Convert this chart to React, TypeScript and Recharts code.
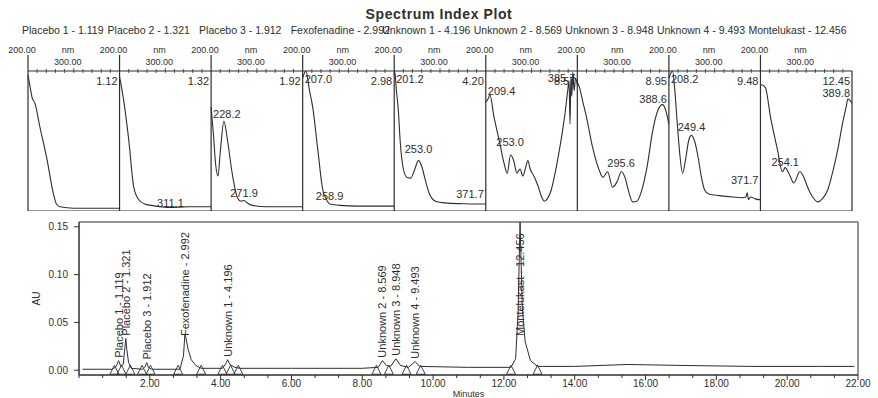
import { ComposedChart, Line, Scatter, XAxis, YAxis, ReferenceLine, ReferenceArea } from "recharts"

const FONT = '"Liberation Sans", Arial, sans-serif'
const INK = "#2e2e2e"

// peaks found in the run
const peakNames = ["Placebo 1", "Placebo 2", "Placebo 3", "Fexofenadine", "Unknown 1", "Unknown 2", "Unknown 3", "Unknown 4", "Montelukast"]
const peakTimes = [1.119, 1.321, 1.912, 2.992, 4.196, 8.569, 8.948, 9.493, 12.456]
const peakHeights = [0.01, 0.033, 0.008, 0.038, 0.011, 0.01, 0.012, 0.009, 0.155]
const peakMarkers = [1.0, 1.2, 1.45, 1.78, 2.02, 2.8, 3.45, 4.05, 4.28, 4.5, 8.4, 8.75, 9.25, 9.65, 12.2, 12.95]

// chromatogram trace [min, AU]
const chromatogram = [
  [0.1, 0.001], [0.95, 0.001], [1.05, 0.004], [1.119, 0.01], [1.18, 0.004], [1.25, 0.006], [1.3, 0.025],
  [1.321, 0.033], [1.35, 0.022], [1.4, 0.008], [1.48, 0.002], [1.8, 0.001], [1.87, 0.004], [1.912, 0.008],
  [1.96, 0.003], [2.05, 0.001], [2.85, 0.001], [2.95, 0.015], [2.992, 0.038], [3.02, 0.034], [3.08, 0.022],
  [3.17, 0.011], [3.3, 0.005], [3.45, 0.002], [4.05, 0.002], [4.15, 0.007], [4.196, 0.011], [4.26, 0.006],
  [4.4, 0.003], [4.55, 0.002], [6.0, 0.002], [8.0, 0.002], [8.45, 0.003], [8.569, 0.01], [8.68, 0.005],
  [8.8, 0.004], [8.948, 0.012], [9.08, 0.005], [9.3, 0.003], [9.493, 0.009], [9.62, 0.004], [11.0, 0.003],
  [12.2, 0.003], [12.33, 0.012], [12.4, 0.06], [12.456, 0.155], [12.52, 0.065], [12.6, 0.03], [12.75, 0.01],
  [12.95, 0.004], [14.0, 0.004], [15.5, 0.006], [17.0, 0.005], [19.0, 0.004], [21.0, 0.004], [21.9, 0.004],
]

const auTicks = [0, 0.05, 0.1, 0.15]
const minuteLabels = [2, 4, 6, 8, 10, 12, 14, 16, 18, 20, 22]

// UV spectra [nm, relative absorbance]
const placebo1Spectrum = [[200, 0.97], [205, 0.88], [209, 0.81], [215, 0.77], [226, 0.6], [242, 0.36], [255, 0.13], [262, 0.05], [270, 0.03], [300, 0.02], [400, 0.02]]
const placebo2Spectrum = [[200, 0.96], [209, 0.79], [220, 0.51], [231, 0.17], [242, 0.08], [255, 0.05], [270, 0.04], [311, 0.025], [350, 0.03], [400, 0.03]]
const placebo3Spectrum = [[200, 0.74], [205, 0.55], [210, 0.33], [215, 0.25], [220, 0.42], [228, 0.64], [236, 0.5], [246, 0.27], [257, 0.1], [265, 0.07], [272, 0.075], [280, 0.055], [290, 0.04], [320, 0.03], [400, 0.03]]
const fexofenadineSpectrum = [[200, 0.95], [207, 1.0], [215, 0.86], [222, 0.74], [233, 0.44], [244, 0.15], [255, 0.065], [259, 0.05], [270, 0.045], [281, 0.04], [320, 0.035], [400, 0.035]]
const unknown1Spectrum = [[200, 0.97], [201, 1.0], [205, 0.85], [209, 0.72], [213, 0.5], [220, 0.3], [228, 0.24], [236, 0.235], [245, 0.3], [253, 0.36], [260, 0.32], [268, 0.22], [276, 0.13], [290, 0.07], [310, 0.058], [350, 0.052], [372, 0.05], [400, 0.05]]
const unknown2Spectrum = [[200, 0.78], [205, 0.8], [209, 0.83], [218, 0.67], [229, 0.51], [240, 0.34], [247, 0.27], [254, 0.4], [261, 0.36], [268, 0.27], [275, 0.3], [281, 0.25], [287, 0.31], [292, 0.36], [297, 0.3], [305, 0.25], [314, 0.18], [322, 0.1], [328, 0.07], [335, 0.09], [343, 0.15], [352, 0.28], [360, 0.42], [368, 0.58], [374, 0.72], [379, 0.86], [382, 0.93], [384, 0.62], [386, 0.96], [388, 0.82], [390, 0.99], [393, 0.86], [396, 0.95], [400, 0.9]]
const unknown3Spectrum = [[200, 0.92], [204, 0.89], [212, 0.78], [220, 0.67], [233, 0.46], [248, 0.29], [256, 0.24], [266, 0.28], [277, 0.17], [287, 0.21], [296, 0.28], [304, 0.24], [312, 0.14], [321, 0.065], [330, 0.07], [340, 0.14], [352, 0.31], [365, 0.58], [376, 0.72], [386, 0.76], [393, 0.72], [400, 0.62]]
const unknown4Spectrum = [[200, 0.95], [208, 1.0], [213, 0.86], [218, 0.64], [224, 0.4], [230, 0.27], [237, 0.38], [243, 0.5], [249, 0.54], [256, 0.5], [263, 0.4], [270, 0.26], [278, 0.15], [288, 0.12], [310, 0.11], [340, 0.1], [360, 0.095], [368, 0.1], [371, 0.13], [374, 0.08], [378, 0.1], [390, 0.085], [400, 0.08]]
const montelukastSpectrum = [[200, 0.9], [204, 0.9], [211, 0.88], [222, 0.67], [237, 0.44], [248, 0.28], [254, 0.31], [262, 0.27], [273, 0.2], [286, 0.28], [295, 0.24], [303, 0.17], [314, 0.1], [325, 0.065], [336, 0.09], [347, 0.15], [358, 0.28], [369, 0.44], [379, 0.62], [387, 0.74], [391, 0.8], [400, 0.77]]

const spectra = [placebo1Spectrum, placebo2Spectrum, placebo3Spectrum, fexofenadineSpectrum, unknown1Spectrum, unknown2Spectrum, unknown3Spectrum, unknown4Spectrum, montelukastSpectrum]
const spectrumTimes = ["1.12", "1.32", "1.92", "2.98", "4.20", "8.57", "8.95", "9.48", "12.45"]
// wavelength callouts [label nm, label level]
const spectrumMarks: [string, number][][] = [
  [],
  [["311.1", 0.06]],
  [["228.2", 0.69], ["271.9", 0.13]],
  [["207.0", 0.94], ["258.9", 0.11]],
  [["201.2", 0.94], ["253.0", 0.44], ["371.7", 0.12]],
  [["209.4", 0.86], ["253.0", 0.49], ["385.7", 0.95]],
  [["388.6", 0.8], ["295.6", 0.34]],
  [["208.2", 0.94], ["249.4", 0.6], ["371.7", 0.22]],
  [["389.8", 0.84], ["254.1", 0.35]],
]
const RT_LEVEL = 0.93
const nmStartLabel = "200.00"
const nmMidLabel = "300.00"

// spectra strip geometry
const SPEC_W = 878
const SPEC_H = 171
const SPEC_LEFT = 28
const SPEC_RIGHT = 26
const SPEC_AXIS_H = 31
const PX_PER_NM = (SPEC_W - SPEC_LEFT - SPEC_RIGHT) / 1800

const digitWidth = (s: string, size: number) =>
  [...s].reduce((w, c) => w + (c === "." ? 0.278 : 0.556) * size, 0)

const spectrumLines = spectra.map((s, i) => s.map(([nm, a]) => ({ x: i * 200 + nm - 200, a })))

const spectrumLabels = spectra.flatMap((_, i) => {
  const marks = [
    ...spectrumMarks[i].map(([t, lv]) => ({ text: t, nm: Number(t), level: lv })),
    { text: spectrumTimes[i], nm: 400, level: RT_LEVEL },
  ]
  return marks.map((m) => {
    const half = (digitWidth(m.text, 11) / 2 + 2) / PX_PER_NM
    const c = Math.min(Math.max(m.nm, 200 + half), 400 - half)
    return { x: i * 200 + c - 200, y: m.level, text: m.text }
  })
})

const nmTicks: number[] = []
for (let i = 0; i < 9; i++) for (let k = 0; k < 10; k++) nmTicks.push(i * 200 + k * 20)

const NmTick = (props: any) => {
  const { x, payload } = props
  const k = Math.round((payload.value % 200) / 20)
  const ay = SPEC_AXIS_H
  return (
    <g fontFamily={FONT} fill={INK}>
      {k === 0 ? (
        <>
          <line x1={x} x2={x} y1={15} y2={ay} stroke={INK} strokeWidth={1.2} />
          <text x={x - 6} y={10} textAnchor="middle" dominantBaseline="central" fontSize={9}>{nmStartLabel}</text>
          <text x={x + 40} y={10} textAnchor="middle" dominantBaseline="central" fontSize={9}>nm</text>
        </>
      ) : (
        <line x1={x} x2={x} y1={ay - (k === 5 ? 3 : 2)} y2={ay + 2} stroke={INK} strokeWidth={0.8} />
      )}
      {k === 5 && (
        <text x={x - 6} y={22} textAnchor="middle" dominantBaseline="central" fontSize={9}>{nmMidLabel}</text>
      )}
    </g>
  )
}

const SpecText = (p: any) => (
  <text x={p.cx} y={p.cy} textAnchor="middle" dominantBaseline="central" fontSize={11} fill={INK} fontFamily={FONT}>
    {p.payload.text}
  </text>
)

// chromatogram geometry
const CH_W = 878
const CH_H = 183
const CH_TOP = 7
const CH_AXIS_Y = 160

const chromData = chromatogram.map(([t, au]) => ({ t, au }))
const peakData = peakTimes.map((t, i) => ({ t, au: peakHeights[i], text: `${peakNames[i]} - ${t.toFixed(3)}` }))
const markerData = peakMarkers.map((t) => ({ t, au: 0 }))

const minuteTicks: number[] = []
for (let k = 0; k <= 33; k++) minuteTicks.push((k * 2) / 3)

const MinuteTick = (props: any) => {
  const { x, payload } = props
  const v = payload.value
  const major = minuteLabels.includes(v)
  return (
    <g>
      <line x1={x} x2={x} y1={CH_AXIS_Y} y2={CH_AXIS_Y + (major ? 5 : 3)} stroke={INK} />
      {major && (
        <text x={x} y={172} textAnchor="middle" fontSize={10} fill={INK} fontFamily={FONT}>{v.toFixed(2)}</text>
      )}
    </g>
  )
}

const PeakLabel = (p: any) => {
  const len = p.payload.text.length * 5.4
  const bottom = Math.max(p.cy - 3, CH_TOP + 6 + len)
  const x = p.cx + 4
  return (
    <text x={x} y={bottom} transform={`rotate(-90 ${x} ${bottom})`} fontSize={11} fill={INK} fontFamily={FONT}>
      {p.payload.text}
    </text>
  )
}

const Marker = (p: any) => (
  <polygon
    points={`${p.cx - 4.5},${p.cy + 4} ${p.cx + 4.5},${p.cy + 4} ${p.cx},${p.cy - 5}`}
    fill="none"
    stroke={INK}
    strokeWidth={0.9}
  />
)

const AuLabel = (p: any) => {
  const y = p.viewBox.y + p.viewBox.height / 2
  return (
    <text x={40} y={y} transform={`rotate(-90 40 ${y})`} textAnchor="middle" fontSize={10} fill={INK} fontFamily={FONT}>
      AU
    </text>
  )
}

export default function App() {
  return (
    <div style={{ position: "absolute", left: 0, top: 0, width: 878, height: 398, background: "#fff", fontFamily: FONT, color: INK }}>
      <div style={{ position: "absolute", top: 6, left: 0, width: 878, textAlign: "center", fontSize: 14, fontWeight: "bold", letterSpacing: 0.6 }}>
        Spectrum Index Plot
      </div>
      {peakNames.map((n, i) => (
        <div
          key={n}
          style={{ position: "absolute", top: 24, left: i === 0 ? 22 : SPEC_LEFT + i * 200 * PX_PER_NM - 12, fontSize: 10.5, whiteSpace: "nowrap" }}
        >
          {`${n} - ${peakTimes[i].toFixed(3)}`}
        </div>
      ))}

      <div style={{ position: "absolute", top: 40, left: 0 }}>
        <ComposedChart width={SPEC_W} height={SPEC_H} margin={{ top: 0, right: SPEC_RIGHT, bottom: 0, left: SPEC_LEFT }}>
          <XAxis
            xAxisId={0}
            type="number"
            dataKey="x"
            orientation="top"
            domain={[0, 1800]}
            ticks={nmTicks}
            interval={0}
            height={SPEC_AXIS_H}
            tickLine={false}
            axisLine={{ stroke: INK, strokeWidth: 1.2 }}
            tick={<NmTick />}
          />
          <YAxis yAxisId={0} type="number" domain={[0, 1]} hide />
          {[0, 1, 2, 3, 4, 5, 6, 7, 8, 9].map((i) => (
            <ReferenceLine key={i} x={i * 200} stroke={INK} strokeWidth={1.2} />
          ))}
          <ReferenceLine y={0} stroke={INK} strokeWidth={1.2} />
          {spectrumLines.map((d, i) => (
            <Line key={i} data={d} dataKey="a" type="monotone" stroke={INK} strokeWidth={1.1} dot={false} isAnimationActive={false} />
          ))}
          <Scatter data={spectrumLabels} dataKey="y" shape={<SpecText />} isAnimationActive={false} />
        </ComposedChart>
      </div>

      <div style={{ position: "absolute", top: 215, left: 0 }}>
        <ComposedChart width={CH_W} height={CH_H} margin={{ top: CH_TOP, right: 20, bottom: 0, left: 30 }}>
          <XAxis
            type="number"
            dataKey="t"
            domain={[0, 22]}
            ticks={minuteTicks}
            interval={0}
            height={23}
            tickLine={false}
            axisLine={{ stroke: INK }}
            tick={<MinuteTick />}
            label={{ value: "Minutes", position: "insideBottom", offset: 1, fontSize: 9, fill: INK }}
          />
          <YAxis
            type="number"
            domain={[-0.005, 0.155]}
            ticks={auTicks}
            allowDataOverflow
            width={49}
            tickSize={5}
            tickMargin={6}
            tickFormatter={(v: number) => v.toFixed(2)}
            tick={{ fontSize: 10, fill: INK, fontFamily: FONT }}
            axisLine={{ stroke: INK }}
            tickLine={{ stroke: INK }}
            label={{ content: <AuLabel /> }}
          />
          <ReferenceArea x1={0} x2={22} y1={-0.005} y2={0.155} fill="none" stroke={INK} strokeWidth={1} />
          <Line data={chromData} dataKey="au" type="linear" stroke={INK} strokeWidth={1} dot={false} isAnimationActive={false} />
          <Scatter data={markerData} dataKey="au" shape={<Marker />} isAnimationActive={false} />
          <Scatter data={peakData} dataKey="au" shape={<PeakLabel />} isAnimationActive={false} />
        </ComposedChart>
      </div>
    </div>
  )
}
